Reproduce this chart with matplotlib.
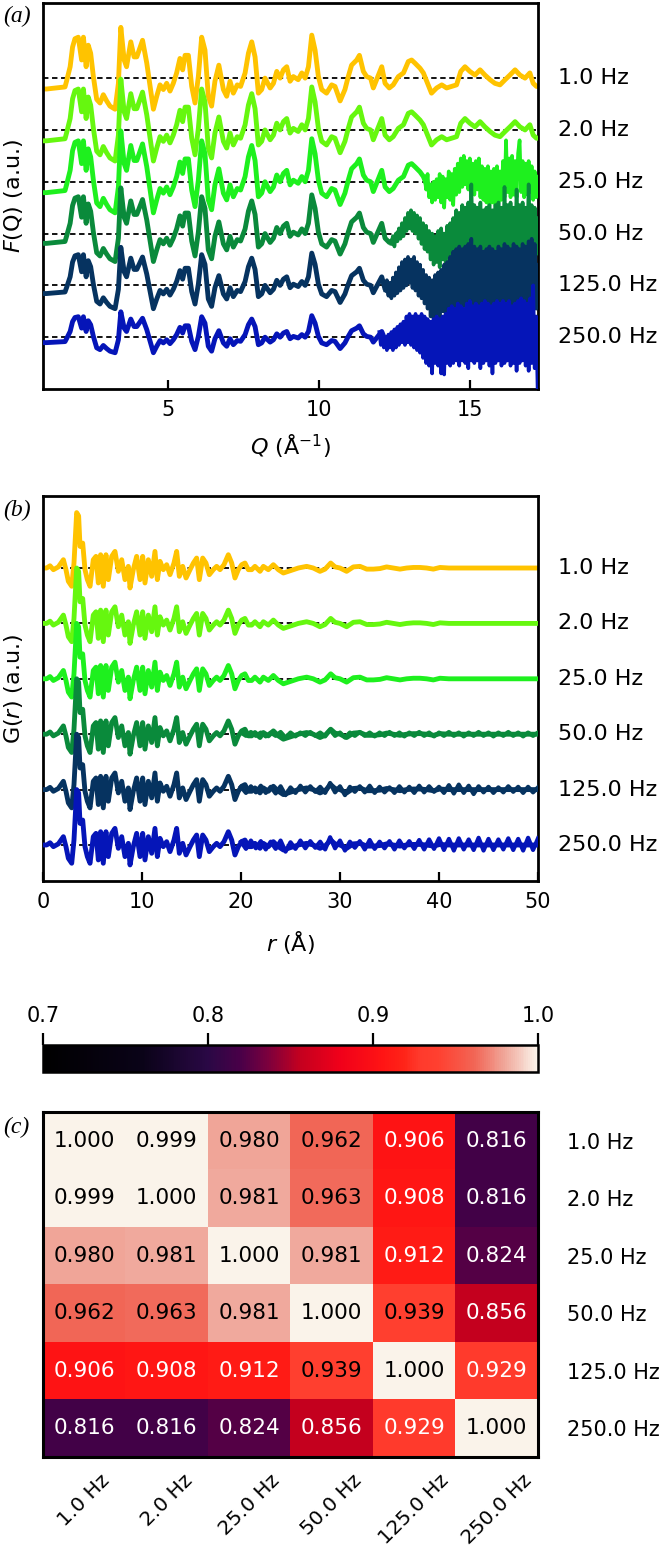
import numpy as np
import matplotlib
matplotlib.use("Agg")
import matplotlib.pyplot as plt
from matplotlib.colors import LinearSegmentedColormap
from matplotlib.transforms import blended_transform_factory

plt.rcParams['font.family'] = ['DejaVu Sans']

# ---------------- data ----------------
rates = ['1.0 Hz', '2.0 Hz', '25.0 Hz', '50.0 Hz', '125.0 Hz', '250.0 Hz']
line_colors = ['#FFC300', '#66F70F', '#1EF01E', '#0A8A3B', '#063360', '#0515B8']

# F(Q) shape (units: curve spacing)
fq_q = [0.85, 0.97, 1.58, 1.63, 1.75, 1.83, 1.91, 2.02, 2.13, 2.19,
        2.28, 2.35, 2.43, 2.52, 2.63, 2.74, 2.85, 2.96, 3.07, 3.24,
        3.35, 3.43, 3.54, 3.62, 3.76, 3.87, 3.96, 4.15, 4.29, 4.40,
        4.51, 4.62, 4.73, 4.84, 4.95, 5.06, 5.17, 5.28, 5.39, 5.48,
        5.56, 5.67, 5.78, 5.89, 6.00, 6.11, 6.22, 6.33, 6.44, 6.55,
        6.68, 6.83, 6.94, 7.05, 7.16, 7.29, 7.40, 7.55, 7.66, 7.77,
        7.88, 7.99, 8.10, 8.21, 8.38, 8.49, 8.60, 8.71, 8.82, 8.93,
        9.04, 9.15, 9.31, 9.43, 9.54, 9.65, 9.76, 9.87, 9.98, 10.09,
        10.25, 10.42, 10.53, 10.70, 10.86, 10.97, 11.08, 11.25, 11.34, 11.47,
        11.58, 11.71, 11.80, 11.97, 12.08, 12.19, 12.33, 12.46, 12.63, 12.80,
        12.96, 13.07, 13.18, 13.35, 13.46, 13.57, 13.73, 13.90, 14.07, 14.23,
        14.40, 14.56, 14.70, 14.84, 15.00, 15.17, 15.34, 15.50, 15.67, 15.83,
        16.00, 16.17, 16.33, 16.50, 16.66, 16.83, 16.99, 17.10, 17.21, 17.26]
fq_shape = [-0.21, -0.21, -0.17, -0.06, 0.22, 0.60, 0.76, 0.79, 0.35, 0.79,
            0.22, 0.635, 0.48, 0.03, -0.41, -0.48, -0.32, -0.44, -0.54, -0.60,
            -0.10, 0.98, 0.35, 0.22, 0.70, 0.41, 0.41, 0.73, 0.29, -0.16,
            -0.60, -0.35, -0.13, -0.22, -0.10, -0.25, -0.10, 0.10, 0.38, 0.16,
            0.44, 0.44, -0.16, -0.48, 0.03, 0.79, 0.54, -0.35, -0.54, -0.06,
            0.25, -0.22, -0.35, -0.06, -0.29, -0.13, -0.16, 0.10, 0.48, 0.70,
            0.41, -0.29, -0.22, 0.00, -0.19, -0.10, 0.13, 0.00, 0.16, 0.22,
            -0.06, 0.03, -0.03, 0.10, 0.00, 0.22, 0.83, 0.54, 0.03, -0.22,
            -0.29, -0.13, -0.16, -0.44, -0.22, 0.03, 0.25, 0.35, 0.44, 0.13,
            0.03, 0.00, -0.19, 0.06, 0.22, -0.10, -0.19, -0.13, 0.03, 0.10,
            0.32, 0.35, 0.29, 0.19, 0.10, -0.06, -0.29, -0.19, -0.13, -0.19,
            -0.16, -0.13, 0.13, 0.22, 0.13, 0.06, 0.16, 0.06, -0.03, -0.10,
            -0.13, -0.03, 0.06, 0.16, 0.06, 0.00, 0.10, -0.10, -0.16, -0.16]
fq_scale = [1.0, 1.0, 1.0, 0.9, 0.75, 0.5]

# high-Q noisy parts (hundredths of curve spacing, step 0.05 in Q)
fq_noise_start = {2: 13.5, 3: 12.4, 4: 12.2, 5: 12.0}
fq_noise = {
    2: [10, -15, 15, -30, -5, -40, 0, -35, 5, -30, 15, -40, 10, -50, 5, -30, 20, -35, 15, -45,
        25, -25, 35, -20, 45, -10, 50, -5, 40, -15, 45, -20, 35, -25, 40, -15, 45, -30, 30, -35,
        25, -40, 30, -45, 20, -40, 25, -45, 30, -40, 20, -35, 40, -30, 80, -20, 45, -30, 50, -25,
        40, -30, 55, 80, -20, 40, -30, 35, -25, 40, -20, 30, -35, 20, -30, 10],
    3: [-20, -5, -25, 0, -15, 10, -10, 20, -5, 30, 5, 40, 10, 45, 5, 40, 0, 35, -10, 30,
        -20, 20, -30, 15, -35, 5, -50, 0, -60, -5, -55, 5, -65, 10, -50, 0, -60, 15, -45, 20,
        -55, 30, -40, 45, -50, 40, -35, 55, -45, 50, -40, 60, -35, 95, -40, 55, -50, 50, -45, 60,
        -40, 45, -55, 50, -45, 55, -50, 45, -55, 55, -50, 60, -45, 50, -40, 90, -45, 55, -50, 60,
        -40, 50, -45, 85, -40, 55, -50, 60, -45, 50, -40, 95, -45, 55, -50, 50, -40, 30],
    4: [-10, 10, -20, 5, -25, 15, -20, 25, -15, 35, -10, 45, -5, 50, 0, 55, 5, 50, -5, 55,
        -10, 45, -20, 40, -25, 30, -35, 20, -45, 15, -60, 10, -65, 20, -55, 25, -65, 30, -50, 40,
        -60, 45, -45, 55, -50, 65, -40, 70, -45, 75, -35, 70, -40, 75, -35, 80, -30, 90, -40, 75,
        -35, 70, -45, 75, -40, 65, -50, 70, -45, 75, -50, 70, -55, 65, -50, 75, -45, 70, -40, 80,
        -45, 75, -50, 70, -45, 80, -40, 75, -50, 70, -45, 80, -50, 75, -40, 85, -45, 90, -50, 80,
        -45, 40],
    5: [10, -15, 5, -20, 0, -25, 5, -20, 10, -25, 15, -20, 20, -15, 25, -10, 30, -15, 40, -10,
        45, -15, 40, -20, 45, -25, 40, -30, 45, -40, 40, -50, 35, -55, 30, -70, 35, -50, 40, -55,
        35, -70, 40, -72, 45, -50, 55, -55, 60, -50, 55, -45, 65, -55, 60, -45, 55, -50, 65, -60,
        70, -45, 60, -50, 65, -45, 60, -60, 65, -50, 70, -45, 65, -55, 60, -70, 65, -50, 70, -45,
        65, -55, 70, -50, 65, -45, 70, -55, 60, -50, 65, -65, 70, -50, 75, -45, 70, -55, 65, -65,
        75, -50, 100, -60, 40, -110],
}

# G(r) shape
gr_r = [0.0, 0.37, 0.71, 1.05, 1.55, 2.06, 2.32, 2.56, 2.90, 3.13,
        3.40, 3.60, 3.74, 4.01, 4.24, 4.48, 4.75, 5.08, 5.35, 5.59,
        5.82, 6.09, 6.36, 6.60, 6.94, 7.27, 7.61, 7.95, 8.28, 8.62,
        8.79, 9.12, 9.46, 9.80, 10.07, 10.30, 10.64, 10.98, 11.31, 11.55,
        11.82, 12.15, 12.49, 12.83, 13.23, 13.50, 13.77, 14.11, 14.45, 14.85,
        15.19, 15.52, 15.79, 16.13, 16.46, 16.80, 17.20, 17.54, 17.88, 18.28,
        18.72, 19.06, 19.39, 19.73, 20.07, 20.40, 20.74, 21.08, 21.41, 21.92,
        22.26, 22.76, 23.27, 23.77, 24.28, 24.78, 25.29, 25.79, 26.63, 27.30,
        27.98, 28.49, 29.06, 29.50, 30.00, 30.67, 31.35, 32.02, 32.70, 33.37,
        34.04, 34.71, 35.39, 36.06, 36.73, 37.41, 38.08, 38.75, 39.43, 40.10,
        41.0, 50.0]
gr_shape = [0.0, 0.0, 0.04, -0.03, 0.02, 0.15, -0.03, -0.24, -0.33, 0.09,
            1.00, 0.94, 0.39, 0.45, -0.03, -0.21, -0.33, 0.15, 0.21, -0.27,
            0.24, -0.33, 0.24, -0.21, 0.21, 0.30, -0.06, 0.15, -0.21, 0.03,
            -0.36, -0.03, 0.21, -0.21, 0.21, -0.27, 0.15, -0.15, 0.30, -0.21,
            0.12, -0.03, 0.06, -0.12, 0.09, 0.30, -0.15, 0.03, -0.18, -0.03,
            0.09, 0.18, -0.21, 0.18, 0.09, -0.12, -0.03, 0.03, -0.03, 0.06,
            0.24, 0.09, -0.18, -0.03, 0.06, 0.09, -0.03, -0.03, 0.03, -0.06,
            0.03, -0.03, 0.06, -0.03, -0.09, -0.06, -0.03, 0.0, 0.03, 0.0,
            -0.06, -0.02, 0.09, 0.02, 0.0, -0.06, 0.02, 0.03, -0.02, -0.02,
            -0.01, 0.02, 0.0, -0.02, 0.0, 0.01, 0.01, 0.0, -0.02, 0.01,
            0.0, 0.0]
# high-r noisy parts (hundredths, step 0.5 from r = 20)
gr_noise = {
    3: [3, -3, 4, -3, 3, -4, 3, -3, 4, -6, 3, -4, 3, -3, 4, -3, 3, -4, 8, -3,
        3, -6, 3, -3, 4, -3, 3, -4, 3, -3, 4, -3, 3, -4, 3, -3, 4, -3, 3, -4,
        3, -3, 4, -3, 3, -4, 3, -3, 4, -3, 3, -4, 3, -3, 4, -3, 3, -4, 3, -3, 3],
    4: [5, -6, 6, -5, 7, -6, 5, -7, 6, -10, 4, -6, 7, -5, 6, -4, 5, -6, 12, -5,
        6, -10, 5, -4, 6, -5, 7, -6, 5, -5, 4, -6, 6, -5, 5, -6, 7, -5, 6, -4,
        5, -6, 8, -7, 9, -6, 7, -8, 6, -5, 5, -6, 4, -5, 6, -4, 5, -6, 5, -5, 4],
    5: [6, -7, 8, -6, 7, -8, 6, -7, 8, -12, 5, -7, 8, -6, 7, -5, 6, -8, 14, -6,
        8, -10, 6, -5, 7, -8, 9, -7, 6, -6, 7, -8, 8, -6, 7, -7, 9, -8, 10, -7,
        12, -9, 11, -10, 12, -8, 10, -9, 13, -10, 11, -9, 10, -8, 12, -9, 11, -10, 13, -9, 12],
}

corr = [[1.000, 0.999, 0.980, 0.962, 0.906, 0.816],
        [0.999, 1.000, 0.981, 0.963, 0.908, 0.816],
        [0.980, 0.981, 1.000, 0.981, 0.912, 0.824],
        [0.962, 0.963, 0.981, 1.000, 0.939, 0.856],
        [0.906, 0.908, 0.912, 0.939, 1.000, 0.929],
        [0.816, 0.816, 0.824, 0.856, 0.929, 1.000]]
cbar_ticks = [0.7, 0.8, 0.9, 1.0]

# ---------------- figure ----------------
W, H = 667, 1553
fig = plt.figure(figsize=(W / 100, H / 100), dpi=100)


def rect(l, t, r, b):
    return [l / W, 1 - b / H, (r - l) / W, (b - t) / H]


axA = fig.add_axes(rect(43, 3, 538, 389))
axB = fig.add_axes(rect(43, 496, 538, 881))
cax = fig.add_axes(rect(43, 1045, 538, 1072))
axC = fig.add_axes(rect(43, 1112, 538, 1457))

n = len(rates)
LW = 3.5
dash = (0, (3, 2))

# ---- panel a ----
fq_q_arr = np.array(fq_q)
fq_shape_arr = np.array(fq_shape)
trA = blended_transform_factory(axA.transAxes, axA.transData)
for i in range(n):
    off = n - 1 - i
    axA.axhline(off, color='black', ls=dash, lw=1.3, zorder=1)
for i in range(n):
    off = n - 1 - i
    axA.plot(fq_q_arr, off + fq_scale[i] * fq_shape_arr, color=line_colors[i],
             lw=LW, zorder=2 + i, solid_capstyle='round')
    if i in fq_noise:
        vals = np.array(fq_noise[i]) / 100.0
        qx = fq_noise_start[i] + 0.05 * np.arange(len(vals))
        keep = qx <= 17.26
        axA.plot(qx[keep], off + vals[keep], color=line_colors[i], lw=2.6, zorder=2 + i)
    axA.text(1.04, off, rates[i], transform=trA, ha='left', va='center', fontsize=16)

axA.set_xlim(0.85, 17.26)
axA.set_ylim(-1.0, 6.45)
axA.set_xticks([5, 10, 15])
axA.set_yticks([])
axA.set_xlabel(r'$Q$ (Å$^{-1}$)', fontsize=16, labelpad=9)
axA.set_ylabel(r'$F$(Q) (a.u.)', fontsize=16)
axA.yaxis.set_label_coords(-0.036, 0.5)

# ---- panel b ----
gr_r_arr = np.array(gr_r)
gr_shape_arr = np.array(gr_shape)
trB = blended_transform_factory(axB.transAxes, axB.transData)
for i in range(n):
    off = n - 1 - i
    axB.axhline(off, color='black', ls=dash, lw=1.3, zorder=1)
for i in range(n):
    off = n - 1 - i
    axB.plot(gr_r_arr, off + gr_shape_arr, color=line_colors[i], lw=LW, zorder=2 + i)
    if i in gr_noise:
        vals = np.array(gr_noise[i]) / 100.0
        rx = 20.0 + 0.5 * np.arange(len(vals))
        keep = rx <= 50
        axB.plot(rx[keep], off + vals[keep], color=line_colors[i], lw=3.0, zorder=2 + i)
    axB.text(1.04, off, rates[i], transform=trB, ha='left', va='center', fontsize=16)

axB.set_xlim(0, 50)
axB.set_ylim(-0.65, 6.30)
axB.set_xticks([0, 10, 20, 30, 40, 50])
axB.set_yticks([])
axB.set_xlabel(r'$r$ (Å)', fontsize=16, labelpad=12)
axB.set_ylabel(r'G($r$) (a.u.)', fontsize=16)
axB.yaxis.set_label_coords(-0.036, 0.5)

for ax in (axA, axB):
    ax.tick_params(axis='x', direction='in', length=6.5, width=1.6, labelsize=15, pad=8)
    for s in ax.spines.values():
        s.set_linewidth(2.0)

# ---- colormap ----
nodes = [(0.0, '#000000'), (0.2, '#0A0318'), (0.333, '#2A0845'), (0.4, '#4A0048'),
         (0.453, '#7A003E'), (0.52, '#C4001F'), (0.6, '#F0001A'), (0.687, '#FF1414'),
         (0.73, '#FF2418'), (0.763, '#FF3A2C'), (0.8, '#FF4030'), (0.873, '#F26555'),
         (0.933, '#F0A598'), (1.0, '#FAF3EA')]
cmap = LinearSegmentedColormap.from_list('corrmap', nodes)

# ---- panel c ----
data = np.array(corr)
im = axC.imshow(data, cmap=cmap, vmin=0.7, vmax=1.0, aspect='auto')
for r in range(n):
    for c in range(n):
        v = data[r, c]
        axC.text(c, r, f'{v:.3f}', ha='center', va='center', fontsize=15.5,
                 color='white' if v < 0.935 else 'black')
axC.set_xticks(range(n))
axC.set_xticklabels(rates, rotation=45, fontsize=14.5)
axC.set_yticks(range(n))
axC.yaxis.tick_right()
axC.set_yticklabels(rates, fontsize=15)
axC.tick_params(axis='x', length=0, pad=10)
axC.tick_params(axis='y', length=0, pad=21)
for s in axC.spines.values():
    s.set_linewidth(2.2)

cb = fig.colorbar(im, cax=cax, orientation='horizontal', ticks=cbar_ticks)
cax.xaxis.set_ticks_position('top')
cax.xaxis.set_label_position('top')
cax.tick_params(axis='x', direction='out', length=8.5, width=1.6, labelsize=15, pad=5)
cax.set_xticklabels([f'{t:.1f}' for t in cbar_ticks])
cb.outline.set_linewidth(1.8)

# ---- panel letters ----
for txt, y in (('(a)', 16), ('(b)', 510), ('(c)', 1127)):
    fig.text(3 / W, 1 - y / H, txt, family='Liberation Serif', style='italic',
             fontsize=17, ha='left', va='center')

fig.savefig('out.png', dpi=100)
